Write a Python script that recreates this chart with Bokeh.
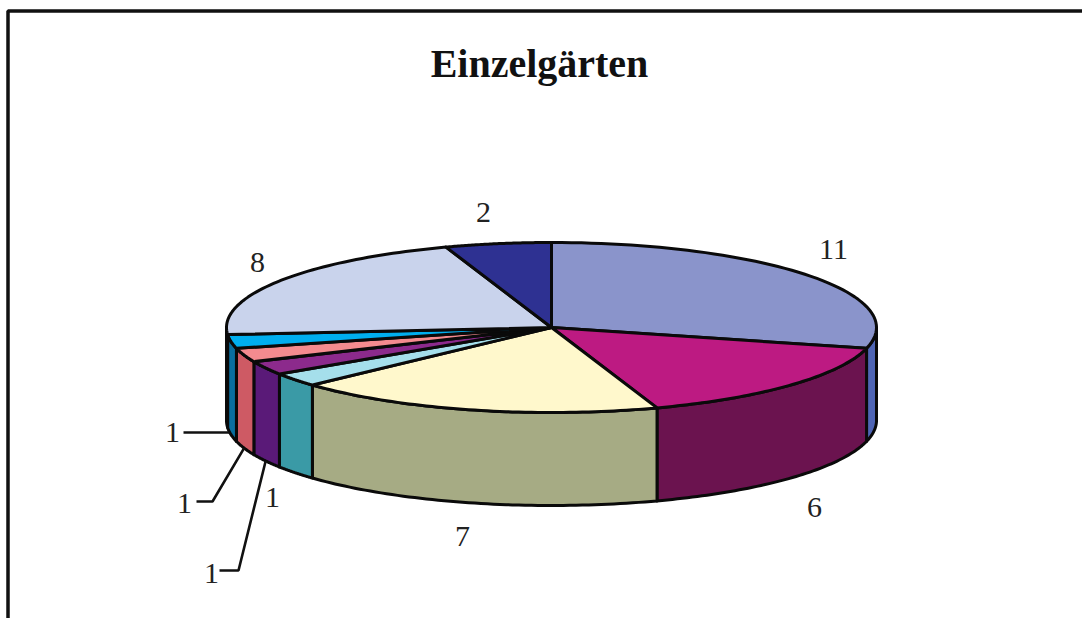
import numpy as np
from bokeh.plotting import figure
from bokeh.models import Range1d
from bokeh.core.properties import value
from bokeh.embed import file_html
from bokeh.resources import INLINE

TITLE = "Einzelgärten"
slice_values = [11, 6, 7, 1, 1, 1, 1, 8, 2]
slice_labels = ["11", "6", "7", "1", "1", "1", "1", "8", "2"]
top_colors = ["#8A94CB", "#BD1A82", "#FFF8CC", "#A5DFEB", "#8C2A8C", "#F48B8F", "#00AEEF", "#C9D3EC", "#2E3192"]
side_colors = ["#4F65B5", "#6B134F", "#A6AB84", "#3A9AA6", "#5A1A78", "#CE5A64", "#0A6E9F", "#6B7A9F", "#1E2070"]

# layout, in page pixels
W, H = 1082, 618
CX, CY, RX, RY, DEPTH = 551, 327, 325, 85, 93
# label centres per slice
label_pos = [(833, 249), (814, 507), (462, 536), (272, 497), (211, 573), (184, 503), (172, 432), (257, 262), (483, 212)]
# leader points on the label side, per slice
leaders = {4: [(219, 570), (238, 570)], 5: [(196, 501), (212, 501)], 6: [(183, 432), (229, 432)]}

p = figure(width=W, height=H, output_backend="svg", toolbar_location=None,
           x_range=Range1d(0, W), y_range=Range1d(H, 0),
           min_border=0, outline_line_color=None, background_fill_color="white")
p.axis.visible = False
p.grid.visible = False

total = sum(slice_values)
edges = np.cumsum([0] + slice_values) / total * 2 * np.pi


def rim(a, b, n=60):
    t = np.linspace(a, b, n)
    return CX + RX * np.sin(t), CY - RY * np.cos(t)


LW = 3
# side walls: only the part of each slice facing the viewer
for i in range(len(slice_values)):
    a, b = max(edges[i], np.pi / 2), min(edges[i + 1], 3 * np.pi / 2)
    if b <= a:
        continue
    x, y = rim(a, b)
    xs = np.concatenate([x, x[::-1]])
    ys = np.concatenate([y, y[::-1] + DEPTH])
    p.patch(xs, ys, fill_color=side_colors[i], line_color="#0a0a0a", line_width=LW, line_join="round")

# top faces
for i in range(len(slice_values)):
    x, y = rim(edges[i], edges[i + 1])
    p.patch(np.r_[CX, x], np.r_[CY, y], fill_color=top_colors[i], line_color="#0a0a0a", line_width=LW, line_join="round")

# leader lines, ending on the lower rim at the slice's middle angle
for i, pts in leaders.items():
    mid = (edges[i] + edges[i + 1]) / 2
    ax, ay = CX + RX * np.sin(mid), CY - RY * np.cos(mid) + DEPTH
    if i == 6:
        xs, ys = [q[0] for q in pts], [q[1] for q in pts]
    else:
        xs, ys = [q[0] for q in pts] + [ax], [q[1] for q in pts] + [ay]
    p.line(xs, ys, line_color="#111111", line_width=2.6)

# labels
p.text([q[0] for q in label_pos], [q[1] for q in label_pos], text=slice_labels,
       text_font=value("Liberation Serif"), text_font_size="30px", text_color="#222222",
       text_align="center", text_baseline="middle")

# title
p.text([539], [63], text=[TITLE], text_font=value("Liberation Serif"), text_font_style="bold",
       text_font_size="40px", text_color="#111111", text_align="center", text_baseline="middle")

# picture frame
p.line([7.5, 7.5, W], [H, 10.5, 10.5], line_color="#111111", line_width=3.5)

open("out.html", "w").write(file_html(p, INLINE))
